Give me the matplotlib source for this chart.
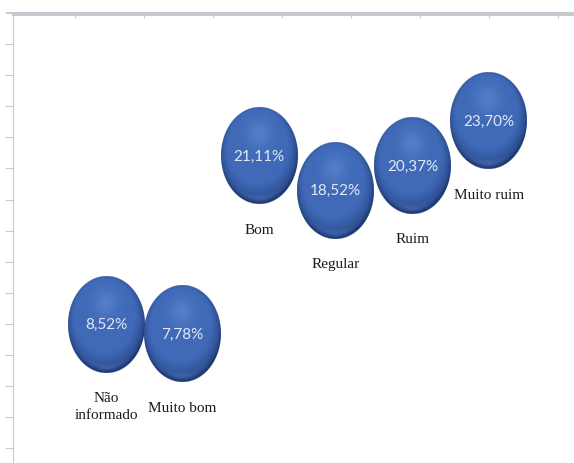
import numpy as np
import matplotlib
matplotlib.use("Agg")
import matplotlib.pyplot as plt
from matplotlib.offsetbox import OffsetImage, AnnotationBbox

# ---- data ----
categories = ["Não\ninformado", "Muito bom", "Bom", "Regular", "Ruim", "Muito ruim"]
values = [8.52, 7.78, 21.11, 18.52, 20.37, 23.70]
value_labels = ["8,52%", "7,78%", "21,11%", "18,52%", "20,37%", "23,70%"]

W, H = 574, 464
fig = plt.figure(figsize=(W / 100, H / 100), dpi=100)
fig.patch.set_facecolor("white")

rect = [13 / W, 0, 1 - 13 / W, (H - 16) / H]

# ---- frame (worksheet-like border with ticks) ----
frame = fig.add_axes(rect, zorder=0)
frame.set_xlim(13, W)
frame.set_ylim(H, 16)
frame.set_facecolor("none")
for s in ["right", "bottom"]:
    frame.spines[s].set_visible(False)
frame.spines["left"].set_color("#c9cccf")
frame.spines["top"].set_color("#b9c0c6")
frame.spines["top"].set_linewidth(1.2)
frame.xaxis.tick_top()
frame.set_xticks(np.arange(75, W, 69))
frame.set_yticks(np.arange(45, H, 31.1))
frame.tick_params(axis="x", direction="inout", length=5, color="#c9cccf",
                  labeltop=False, labelbottom=False)
frame.tick_params(axis="y", direction="out", length=6, color="#c9cccf",
                  labelleft=False)
fig.add_artist(plt.Line2D([7 / W, 1], [1 - 14 / H, 1 - 14 / H],
                          color="#b9c0c6", lw=1.2, transform=fig.transFigure))

# ---- main axes ----
ax = fig.add_axes(rect, zorder=1)
ax.set_facecolor("none")
ax.set_xlim((13 - 106) / 76.6, (W - 106) / 76.6)
ax.set_ylim((439 - H) / 13.38, (439 - 16) / 13.38)
ax.axis("off")


def sphere_texture(w, h, s=4):
    w, h = w * s, h * s
    yy, xx = np.mgrid[0:h, 0:w]
    u = (xx + 0.5 - w / 2) / (w / 2)
    v = (yy + 0.5 - h / 2) / (h / 2)
    r = np.sqrt(u ** 2 + v ** 2)
    z = np.sqrt(np.clip(1 - r ** 2, 0, 1))
    L = np.array([-0.08, -0.3, 0.95])
    L = L / np.linalg.norm(L)
    diff = np.clip(u * L[0] + v * L[1] + z * L[2], 0, 1)
    dark = np.array([28, 54, 112]) / 255
    mid = np.array([64, 106, 184]) / 255
    light = np.array([110, 150, 218]) / 255
    t = np.clip(diff * 1.6, 0, 1)[..., None] ** 0.8
    col = dark + (mid - dark) * t
    spec = np.exp(-((u + 0.02) ** 2 + ((v + 0.45) ** 2) * 1.3) / 0.1)[..., None] * 0.45
    col = col * (1 - spec) + light * spec
    refl = (np.exp(-((r - 0.88) / 0.07) ** 2) * np.clip(v, 0, 1) ** 1.5 *
            np.clip(1 - np.abs(u) * 1.1, 0, 1))[..., None] * 0.6
    col = col * (1 - refl) + np.array([84, 122, 195]) / 255 * refl
    alpha = np.clip((1 - r) * (w / 2) / s + 0.5, 0, 1)
    return np.dstack([np.clip(col, 0, 1), alpha])


tex = sphere_texture(77, 97)

for i, (cat, val, lab) in enumerate(zip(categories, values, value_labels)):
    oi = OffsetImage(tex, zoom=0.25, dpi_cor=False, interpolation="bilinear")
    ab = AnnotationBbox(oi, (i, val), frameon=False, pad=0, zorder=2)
    ax.add_artist(ab)
    ax.text(i, val, lab, ha="center", va="center", color="#e2e9f5",
            fontsize=11, family=["Lato", "DejaVu Sans"], zorder=3)
    ax.annotate(cat, (i, val), xytext=(0, -67), textcoords="offset pixels",
                ha="center", va="top", fontsize=11, color="#1a1a1a",
                family=["Liberation Serif", "DejaVu Serif"], linespacing=1.35,
                zorder=3)

fig.savefig("out.png", dpi=100, facecolor="white")
